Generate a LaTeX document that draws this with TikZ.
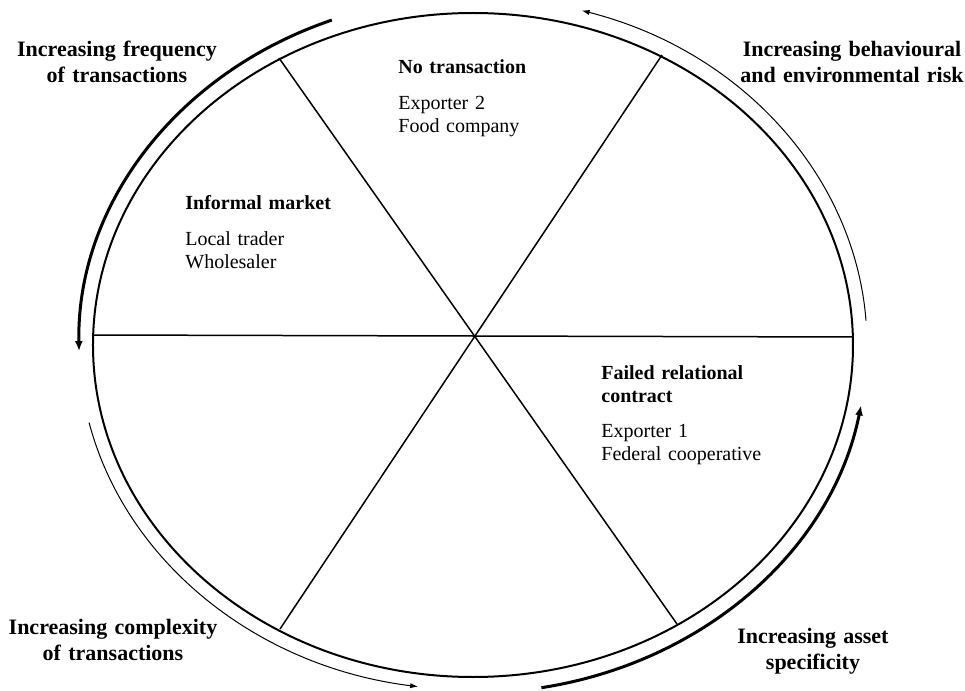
\documentclass[tikz,border=0pt]{standalone}
\usepackage{fontspec}
\setmainfont{Liberation Serif}
\usepackage{tikz}
\usetikzlibrary{arrows.meta}

\begin{document}
\begin{tikzpicture}[x=0.5pt, y=0.5pt,
                    driver/.style = {font=\fontsize{11}{13}\selectfont\bfseries,
                        align=center, text width=125pt, inner sep=0pt, anchor=base},
                    sector/.style = {font=\fontsize{10}{11.5}\selectfont,
                        align=left, text width=110pt, inner sep=0pt, anchor=base west},
                    strong/.style = {line width=1.5pt, -{Latex[length=5pt, width=4pt]}},
                    weak/.style = {line width=0.5pt, -{Latex[length=4pt, width=2.6pt]}}]
        \useasboundingbox (-473,-346) rectangle (492,345);

        % outer ellipse and the six sectors
        \draw[line width=1pt] (0,0) ellipse [x radius=380, y radius=332];

        \coordinate (west) at (-380,10);
        \coordinate (east) at (380,8);
        \coordinate (nw) at (-194,287);
        \coordinate (se) at (204,-279);
        \coordinate (ne) at (189,290);
        \coordinate (sw) at (-193,-284);

        \draw[line width=0.75pt] (west) -- (east);
        \draw[line width=0.75pt] (nw) -- (se);
        \draw[line width=0.75pt] (ne) -- (sw);

        % trends round the ellipse
        \draw[strong] (111:394 and 348) arc [start angle=111, end angle=181, x radius=394, y radius=348];
        \draw[weak] (4:394 and 348) arc [start angle=4, end angle=74, x radius=394, y radius=348];
        \draw[strong] (-80:394 and 348) arc [start angle=-80, end angle=-10, x radius=394, y radius=348];
        \draw[weak] (193:394 and 345) arc [start angle=193, end angle=262, x radius=394, y radius=345];

        \node[driver] (frequency) at (-356,288) {Increasing frequency\\of transactions};
        \node[driver] (risk) at (379,288) {Increasing behavioural\\and environmental risk};
        \node[driver] (complexity) at (-360,-289) {Increasing complexity\\of transactions};
        \node[driver] (asset) at (340,-298) {Increasing asset\\specificity};

        % sector contents
        \node[sector] (none) at (-75,271) {\textbf{No transaction}\\[6.5pt]
            Exporter 2\\Food company};
        \node[sector] (informal) at (-288,135) {\textbf{Informal market}\\[6.5pt]
            Local trader\\Wholesaler};
        \node[sector] (failed) at (128,-34) {\textbf{Failed relational}\\\textbf{contract}\\[6.5pt]
            Exporter 1\\Federal cooperative};
    \end{tikzpicture}
\end{document}
